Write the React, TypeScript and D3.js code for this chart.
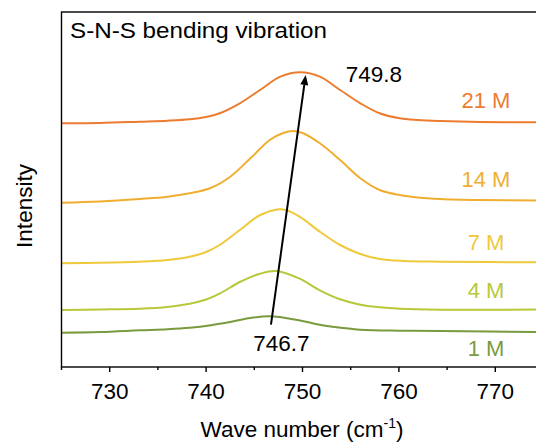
import React from "react";
import * as d3 from "d3";

const W = 536;
const H = 443;

const xTicks = [730, 740, 750, 760, 770];
const xMinorTicks = [725, 735, 745, 755, 765, 775];

const x21 = [725.0, 729.0, 733.1, 736.0, 738.3, 740.0, 741.4, 743.5, 745.6, 747.7, 749.8, 751.8, 753.9, 756.0, 758.0, 760.1, 762.0, 764.3, 768.4, 774.2, 775];
const y21 = [243.7, 244, 245.3, 246.3, 247.7, 250, 253.7, 263.7, 277, 290.3, 294.7, 290.3, 277, 263.7, 253.7, 248.7, 247, 246, 245, 244.7, 244.7];

const x14 = [725.0, 729.0, 733.1, 736.0, 738.3, 740.4, 742.5, 744.6, 746.6, 748.0, 749.0, 750.0, 751.8, 753.9, 756.0, 758.0, 760.1, 762.0, 764.3, 768.4, 775];
const y14 = [164.3, 165.5, 168, 170.3, 173.7, 178.7, 190.3, 208.7, 227, 234, 236, 234, 223.7, 207, 188.7, 177, 172, 169.5, 168, 167, 166.5];

const x7 = [725.0, 729.0, 733.1, 736.0, 738.3, 740.0, 741.4, 743.5, 745.6, 747.5, 748.2, 749.7, 751.8, 753.9, 756.0, 758.0, 760.5, 764.3, 775];
const y7 = [103.7, 104.2, 105.3, 107, 110.3, 115, 122, 137, 152, 157.7, 157.3, 150.3, 135.3, 122, 113, 108, 106, 105.3, 104.7];

const x4 = [725.0, 729.0, 733.1, 736.0, 738.3, 740.0, 741.4, 743.5, 745.6, 747.3, 749.7, 751.8, 753.9, 756.0, 758.0, 760.1, 764.3, 775];
const y4 = [57, 57.5, 58.3, 60, 63.3, 67.5, 73.3, 85, 93.3, 96, 88.3, 76.7, 67.7, 62.3, 59.8, 58.3, 57.3, 57.5];

const x1 = [725.0, 729.0, 733.1, 736.0, 738.3, 740.5, 742.5, 744.6, 746.6, 748.7, 750.5, 751.8, 754.0, 756.0, 760.0, 764.3, 775];
const y1 = [34.3, 35, 36.7, 37.8, 39.3, 41.8, 45, 49, 50.7, 48.3, 45, 42.3, 39.3, 37.3, 36.3, 36, 35];

const seriesNames = ["21 M", "14 M", "7 M", "4 M", "1 M"];
const seriesColors = ["#EC7C30", "#F0AE30", "#EEC93C", "#B8C83A", "#7A9A3E"];
const seriesX = [x21, x14, x7, x4, x1];
const seriesY = [y21, y14, y7, y4, y1];
const labelY = [258.7, 179.7, 117, 68.7, 11.3];

const arrowFrom = [746.73, 42.3];
const arrowTo = [750.33, 292];
const peakLabels = [
  { text: "749.8", x: 757.4, y: 285.3 },
  { text: "746.7", x: 747.8, y: 15.7 },
];

const FONT = "'Liberation Sans', Arial, Helvetica, sans-serif";

export default function App() {
  const left = 61.5;
  const right = 543.5;
  const top = 12;
  const bottom = 367;

  const x = d3.scaleLinear().domain([725, 775]).range([left, right]);
  const y = d3.scaleLinear().domain([0, 355]).range([bottom, top]);

  const line = d3
    .line<[number, number]>()
    .x((d) => x(d[0]))
    .y((d) => y(d[1]))
    .curve(d3.curveCatmullRom.alpha(0.5));

  const ax1 = x(arrowFrom[0]);
  const ay1 = y(arrowFrom[1]);
  const ax2 = x(arrowTo[0]);
  const ay2 = y(arrowTo[1]);
  const ang = Math.atan2(ay2 - ay1, ax2 - ax1);
  const headLen = 10;
  const headW = 4;
  const bx = ax2 - headLen * Math.cos(ang);
  const by = ay2 - headLen * Math.sin(ang);
  const px = -Math.sin(ang);
  const py = Math.cos(ang);
  const head = `M${ax2},${ay2} L${bx + px * headW},${by + py * headW} L${bx - px * headW},${by - py * headW} Z`;

  return (
    <svg
      width={W}
      height={H}
      style={{ position: "absolute", left: 0, top: 0, background: "#fff" }}
      fontFamily={FONT}
    >
      <rect x={0} y={0} width={W} height={H} fill="#fff" />
      <defs>
        <clipPath id="plot">
          <rect x={left} y={top} width={right - left} height={bottom - top} />
        </clipPath>
      </defs>

      <g clipPath="url(#plot)">
        {seriesNames.map((name, i) => (
          <path
            key={name}
            d={line(seriesX[i].map((v, j) => [v, seriesY[i][j]] as [number, number])) || ""}
            fill="none"
            stroke={seriesColors[i]}
            strokeWidth={2}
          />
        ))}
      </g>

      {seriesNames.map((name, i) => (
        <text
          key={name}
          x={486}
          y={y(labelY[i])}
          fill={seriesColors[i]}
          fontSize={22}
          textAnchor="middle"
        >
          {name}
        </text>
      ))}

      <line x1={ax1} y1={ay1} x2={bx} y2={by} stroke="#000" strokeWidth={2} />
      <path d={head} fill="#000" />

      {peakLabels.map((p) => (
        <text key={p.text} x={x(p.x)} y={y(p.y)} fontSize={22.5} textAnchor="middle" fill="#000">
          {p.text}
        </text>
      ))}

      <rect
        x={left}
        y={top}
        width={right - left}
        height={bottom - top}
        fill="none"
        stroke="#000"
        strokeWidth={1.4}
      />

      {xTicks.map((t) => (
        <g key={t}>
          <line x1={x(t)} x2={x(t)} y1={bottom} y2={bottom + 5} stroke="#000" strokeWidth={1.4} />
          <text x={x(t)} y={399} fontSize={22.5} textAnchor="middle" fill="#000">
            {t}
          </text>
        </g>
      ))}
      {xMinorTicks.map((t) => (
        <line key={t} x1={x(t)} x2={x(t)} y1={bottom} y2={bottom + 3} stroke="#000" strokeWidth={1.4} />
      ))}

      <text x={70} y={38} fontSize={22.5} fill="#000" textLength={257} lengthAdjust="spacingAndGlyphs">
        S-N-S bending vibration
      </text>

      <text x={302} y={437} fontSize={22.5} textAnchor="middle" fill="#000">
        Wave number (cm
        <tspan dy={-9} fontSize={14}>-1</tspan>
        <tspan dy={9}>)</tspan>
      </text>

      <text
        transform={`translate(31.5,206) rotate(-90)`}
        fontSize={22.5}
        textAnchor="middle"
        fill="#000"
      >
        Intensity
      </text>
    </svg>
  );
}
